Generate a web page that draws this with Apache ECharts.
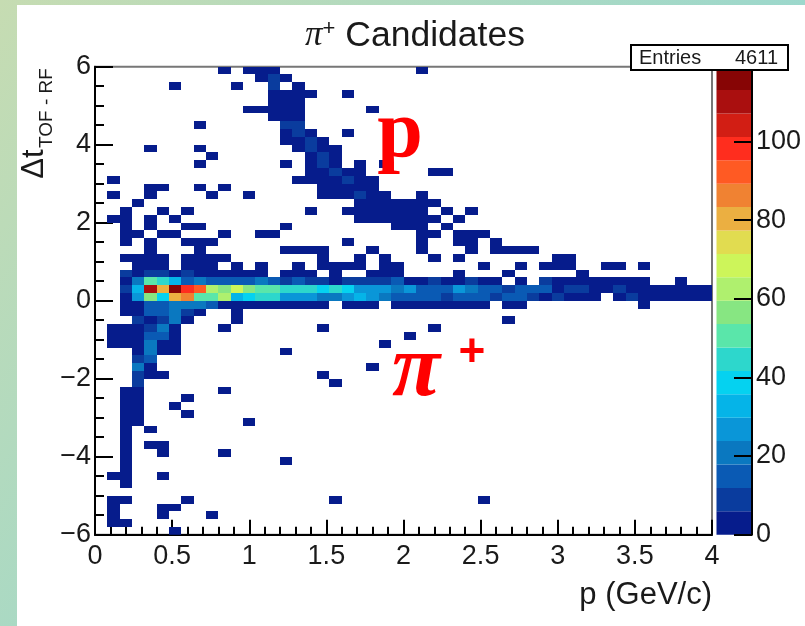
<!DOCTYPE html>
<html>
<head>
<meta charset="utf-8">
<style>
html,body{margin:0;padding:0;width:805px;height:626px;overflow:hidden;background:linear-gradient(130deg,#c6dcb2 0%,#81d5dd 100%);}
#panel{position:absolute;left:17px;top:5px;width:788px;height:621px;background:#fff;}
#chart{position:absolute;left:0;top:0;width:805px;height:626px;}
</style>
<script src="https://cdn.jsdelivr.net/npm/echarts@6/dist/echarts.min.js"></script>
</head>
<body>
<div id="panel"></div>
<div id="chart"></div>
<script>
const pBinWidth = 0.08;
const dtBinWidth = 0.2;
const dtTop = 6;

// Column indices of low-count (about 3 entries) cells, listed per row from the top
const lowRows = {
  0:[10,12,13,14,26], 1:[13,15], 2:[6,11,16], 3:[14,15,16,17,20], 4:[14,15,16],
  5:[12,13,14,15,16,22], 6:[14,15,16], 7:[8], 8:[15,17,20], 9:[15,16,18],
  10:[4,8,16,18,19], 11:[9,17,19], 12:[8,15,17,19,21,23], 13:[17,18,20,21,27,28],
  14:[1,16,17,18,19,21,22], 15:[4,5,8,10,18,19,20,21,22], 16:[1,4,9,12,18,19,20,22,23,26],
  17:[3,21,22,23,24,25,26,27], 18:[2,5,7,17,20,21,22,23,24,25,26,28,30],
  19:[1,2,4,6,21,22,23,24,25,26,27,29], 20:[2,4,7,8,15,24,25,26,28],
  21:[2,3,5,6,10,13,14,26,27,29,30,31], 22:[2,4,7,8,9,20,26,29,30,32],
  23:[4,8,15,16,17,18,22,26,30,32,33,34,35], 24:[2,3,4,5,7,8,9,10,18,21,23,27,29,37,38],
  25:[3,4,5,7,8,9,11,13,16,18,19,20,21,23,24,31,34,36,37,38,41,42,44],
  26:[3,6,8,9,10,11,12,13,15,16,17,19,22,23,24,29,33,39],
  30:[2,3,10,11,12,13,14,15,16,17,18,20,21,22,24,25,26,27,28,29,30,31,33,34,44],
  31:[2,3,8,11], 32:[4,7,11,33], 33:[1,2,3,6,10,18,27], 34:[1,2,3,6,25], 35:[1,2,3,5,6,23],
  36:[3,5,6,15], 38:[4,22], 39:[4,5,18], 40:[19], 41:[2,3,10], 42:[2,3,7], 43:[2,3,6],
  44:[2,3,7], 45:[2,3,12], 46:[2,4], 47:[2], 48:[2,4,5], 49:[2,5,10], 50:[2,15], 51:[2],
  52:[1,2,5], 53:[2], 55:[1,2,7,19,31], 56:[1,5,6], 57:[1,5,9], 58:[1,2], 59:[6]
};

// Cells above the lowest colour band: [column, row, count]
const midCells = [
  [14,1,9],[14,2,9],[15,7,9],[16,7,9],[16,8,9],[17,9,9],[17,10,9],[18,11,9],[18,12,9],[19,13,9],
  [20,14,9],[21,16,9],[2,26,9],[4,26,9],[5,26,9],[7,26,9],
  [4,30,15],[5,30,15],[6,30,21],[7,30,21],[8,30,21],[9,30,15],
  [4,31,15],[5,31,15],[6,31,21],[7,31,9],
  [3,32,9],[5,32,9],[6,32,21],[4,33,9],[5,33,21],[4,34,15],[5,34,15],[4,35,21],[4,36,21],
  [3,37,9],[4,37,15],[3,38,21],[3,39,9],[3,40,9]
];

// Momentum columns 2 to 49 of the three rows around dt = 0
const rowAbovePeak = [3,21,51,45,33,15,21,15,15,15,15,21,15,9,15,9,9,3,9,9,9,9,15,3,3,9,3,3,9,3,3,0,3,0,9,3,3,3,3,3,3,3,3,0,0,3,0,0];
const rowPeak      = [9,33,110,81,116,99,93,63,57,69,57,51,51,45,45,45,39,45,39,27,27,27,21,27,15,15,15,27,21,15,15,9,15,15,15,3,9,9,3,3,9,3,3,3,3,3,3,3];
const rowBelowPeak = [3,27,57,39,81,87,51,51,63,33,39,45,45,27,27,27,21,21,27,33,27,21,15,15,15,15,9,15,15,15,9,15,15,9,3,9,3,3,3,0,3,9,3,3,3,3,3,3];

const paletteColors = ['#061c8c','#0a3c9e','#0a5ab4','#0a78c0','#0a96d8','#05b4e8','#05d2f0','#2dd7cc','#5ae6aa','#87e682',
  '#aff06e','#cdf55a','#e1dc50','#ebaf41','#f08232','#ff5a23','#ff2d1e','#d21e14','#aa0f0f','#870505'];
const zMax = 119;
const xTickLabels = ['0','0.5','1','1.5','2','2.5','3','3.5','4'];

const bandSize = zMax / paletteColors.length;
const cellMap = new Map();
const setCell = (c, r, v) => { if (v > 0) cellMap.set(c + '_' + r, [c, r, v]); };
Object.keys(lowRows).forEach(r => lowRows[r].forEach(c => setCell(c, +r, 3)));
midCells.forEach(m => setCell(m[0], m[1], m[2]));
rowAbovePeak.forEach((v, i) => setCell(i + 2, 27, v));
rowPeak.forEach((v, i) => setCell(i + 2, 28, v));
rowBelowPeak.forEach((v, i) => setCell(i + 2, 29, v));
const heatData = Array.from(cellMap.values()).map(d => [
  +(d[0] * pBinWidth).toFixed(2),
  +(dtTop - (d[1] + 1) * dtBinWidth).toFixed(2),
  d[2]
]);

const FONT = '"Liberation Sans", Arial, sans-serif';
const INK = '#1a1a1a';

const chart = echarts.init(document.getElementById('chart'), null, {renderer: 'canvas'});
chart.setOption({
  animation: false,
  backgroundColor: 'transparent',
  title: {
    text: '{pi|π}{sup|+}{t| Candidates}',
    left: 410, top: 13, textAlign: 'center',
    textStyle: {
      fontWeight: 'normal',
      rich: {
        pi: {fontFamily: '"Liberation Serif", serif', fontStyle: 'italic', fontWeight: 'normal', fontSize: 35, color: INK},
        sup: {fontFamily: FONT, fontWeight: 'normal', fontSize: 22, color: INK, verticalAlign: 'top', padding: [0,0,8,0]},
        t: {fontFamily: FONT, fontWeight: 'normal', fontSize: 35.5, color: INK}
      }
    }
  },
  grid: [
    {left: 95, top: 66.7, width: 617, height: 468, show: true, borderColor: '#777', borderWidth: 2, backgroundColor: 'transparent'},
    {left: 716.5, top: 66.7, width: 35.5, height: 468}
  ],
  xAxis: [
    {
      type: 'value', gridIndex: 0, min: 0, max: 4, interval: 0.5,
      name: 'p (GeV/c)', nameLocation: 'end', nameGap: 0,
      nameTextStyle: {fontFamily: FONT, fontSize: 31, color: INK, align: 'right', verticalAlign: 'top', padding: [45,0,0,0]},
      axisLine: {show: true, onZero: false, lineStyle: {color: '#000', width: 2}},
      axisTick: {show: true, inside: true, length: 15, lineStyle: {color: '#000', width: 2}},
      minorTick: {show: true, splitNumber: 5, length: 8, lineStyle: {color: '#000', width: 2}},
      splitLine: {show: false},
      axisLabel: {fontFamily: FONT, fontSize: 27, color: INK, margin: 8, formatter: v => xTickLabels[Math.round(v / 0.5)]}
    },
    {type: 'category', gridIndex: 1, data: ['z'], show: false}
  ],
  yAxis: [
    {
      type: 'value', gridIndex: 0, min: -6, max: 6, interval: 2,
      axisLine: {show: true, onZero: false, lineStyle: {color: '#000', width: 2}},
      axisTick: {show: true, inside: true, length: 18, lineStyle: {color: '#000', width: 2}},
      minorTick: {show: true, splitNumber: 4, length: 9, lineStyle: {color: '#000', width: 2}},
      splitLine: {show: false},
      axisLabel: {fontFamily: FONT, fontSize: 27, color: INK, margin: 4, formatter: v => String(v).replace('-', '\u2212')}
    },
    {
      type: 'value', gridIndex: 1, position: 'right', min: 0, max: zMax, interval: 20, z: 5,
      axisLine: {show: true, onZero: false, lineStyle: {color: '#000', width: 2}},
      axisTick: {show: true, inside: true, length: 18, lineStyle: {color: '#000', width: 2}},
      splitLine: {show: false},
      axisLabel: {fontFamily: FONT, fontSize: 27, color: INK, margin: 4, showMaxLabel: false,
        formatter: v => (v % 20 === 0 ? String(v) : '')}
    }
  ],
  series: [
    {
      type: 'custom', xAxisIndex: 0, yAxisIndex: 0, clip: true, z: 1,
      encode: {x: 0, y: 1},
      data: heatData,
      renderItem: (params, api) => {
        const a = api.coord([api.value(0), api.value(1) + dtBinWidth]);
        const b = api.coord([api.value(0) + pBinWidth, api.value(1)]);
        const band = Math.min(paletteColors.length - 1, Math.floor(api.value(2) / bandSize));
        const x0 = Math.round(a[0]), y0 = Math.round(a[1]);
        return {type: 'rect', shape: {x: x0, y: y0, width: Math.round(b[0]) - x0, height: Math.round(b[1]) - y0},
          style: {fill: paletteColors[band]}};
      }
    }
  ].concat(paletteColors.map(color => ({
    type: 'bar', xAxisIndex: 1, yAxisIndex: 1, stack: 'palette', barWidth: '100%',
    data: [bandSize], itemStyle: {color}, z: 1
  }))),
  graphic: [
    {type: 'text', x: 34, y: 164, rotation: Math.PI / 2, z: 10,
      style: {text: 'Δt', fontFamily: FONT, fontSize: 31, fill: INK, align: 'center', verticalAlign: 'middle'}},
    {type: 'text', x: 47, y: 108, rotation: Math.PI / 2, z: 10,
      style: {text: 'TOF - RF', fontFamily: FONT, fontSize: 19, fill: INK, align: 'center', verticalAlign: 'middle'}},
    {type: 'rect', z: 20, shape: {x: 631, y: 45, width: 157, height: 25},
      style: {fill: '#fff', stroke: '#000', lineWidth: 2}},
    {type: 'text', z: 21, x: 639, y: 58, style: {text: 'Entries', fontFamily: FONT, fontSize: 20, fill: INK, align: 'left', verticalAlign: 'middle'}},
    {type: 'text', z: 21, x: 778, y: 58, style: {text: '4611', fontFamily: FONT, fontSize: 20, fill: INK, align: 'right', verticalAlign: 'middle'}},
    {type: 'text', z: 22, x: 400, y: 135, style: {text: 'p', fontFamily: '"Liberation Serif", serif', fontWeight: 'bold', fontSize: 82, fill: '#ff0000', align: 'center', verticalAlign: 'middle'}},
    {type: 'text', z: 22, x: 416, y: 372, style: {text: 'π', fontFamily: '"Liberation Serif", serif', fontWeight: 'bold', fontStyle: 'italic', fontSize: 88, fill: '#ff0000', align: 'center', verticalAlign: 'middle'}},
    {type: 'text', z: 22, x: 472, y: 353, style: {text: '+', fontFamily: FONT, fontWeight: 'bold', fontSize: 46, fill: '#ff0000', align: 'center', verticalAlign: 'middle'}}
  ]
});
</script>
</body>
</html>
